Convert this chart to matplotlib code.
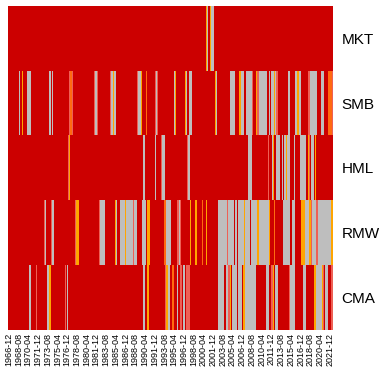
import numpy as np
import pandas as pd
import matplotlib
matplotlib.use("Agg")
import matplotlib.pyplot as plt
from matplotlib.colors import ListedColormap

plt.rcParams['font.family'] = ['Liberation Sans', 'DejaVu Sans']

# monthly columns, first month and count
first_month = "1966-12"
n_months = 667
factors = ["MKT", "SMB", "HML", "RMW", "CMA"]

# significance level of each cell: R = strongest (default), D, S, O, G = not significant
level_names = ["R", "D", "S", "O", "G"]
level_colors = ["#CC0000", "#FF6A10", "#EE6055", "#FFA500", "#BEBEBE"]

# non-red stretches per factor: (first month index, number of months, level)
mkt_runs = [(406, 2, "O"), (408, 2, "G"), (410, 1, "S"), (414, 1, "S"),
            (415, 2, "O"), (417, 6, "G")]

smb_runs = [(22, 2, "G"), (28, 2, "O"), (38, 1, "S"), (39, 9, "G"), (85, 3, "G"),
            (91, 1, "G"), (92, 1, "S"), (126, 2, "S"), (128, 4, "D"), (132, 2, "S"),
            (177, 1, "S"), (178, 5, "G"), (183, 1, "S"), (210, 1, "S"), (211, 4, "G"),
            (215, 2, "O"), (217, 5, "G"), (265, 2, "S"), (267, 6, "G"), (273, 2, "O"),
            (284, 2, "D"), (301, 2, "S"), (303, 3, "G"), (306, 2, "S"), (340, 2, "G"),
            (342, 2, "O"), (364, 2, "O"), (366, 2, "G"), (371, 2, "G"), (373, 1, "O"),
            (374, 4, "G"), (425, 2, "O"), (427, 2, "G"), (456, 9, "G"), (475, 3, "O"),
            (478, 7, "G"), (488, 6, "G"), (494, 1, "S"), (495, 5, "G"), (500, 2, "S"),
            (509, 3, "O"), (512, 3, "S"), (515, 17, "G"), (535, 2, "G"), (540, 5, "G"),
            (545, 2, "O"), (547, 4, "G"), (551, 3, "S"), (574, 5, "G"), (589, 4, "G"),
            (593, 4, "O"), (597, 5, "G"), (616, 3, "S"), (619, 16, "G"), (642, 7, "G"),
            (657, 8, "D"), (665, 2, "S")]

hml_runs = [(123, 2, "S"), (125, 2, "O"), (127, 1, "S"), (278, 3, "G"), (302, 2, "G"),
            (315, 2, "S"), (317, 6, "G"), (368, 2, "S"), (370, 3, "G"), (493, 7, "G"),
            (533, 2, "S"), (541, 2, "G"), (543, 3, "O"), (551, 7, "G"), (562, 2, "G"),
            (567, 4, "G"), (571, 2, "O"), (573, 6, "G"), (586, 3, "G"), (599, 12, "G"),
            (615, 2, "O"), (617, 2, "S"), (622, 5, "G"), (630, 3, "O")]

rmw_runs = [(73, 3, "S"), (76, 3, "G"), (89, 2, "S"), (91, 3, "G"), (137, 3, "S"),
            (140, 5, "O"), (187, 2, "S"), (189, 5, "G"), (194, 1, "O"), (195, 4, "G"),
            (219, 2, "O"), (221, 3, "G"), (229, 12, "G"), (241, 1, "O"), (242, 15, "G"),
            (257, 2, "S"), (259, 6, "G"), (274, 2, "S"), (276, 8, "G"), (286, 5, "O"),
            (320, 4, "D"), (324, 10, "G"), (346, 4, "S"), (350, 6, "G"), (353, 3, "S"),
            (373, 3, "O"), (384, 3, "O"), (398, 3, "D"), (406, 3, "O"), (430, 11, "G"),
            (441, 1, "O"), (442, 7, "G"), (449, 3, "S"), (452, 11, "G"), (466, 4, "G"),
            (472, 12, "G"), (484, 2, "O"), (487, 9, "G"), (498, 13, "G"), (511, 4, "O"),
            (515, 20, "G"), (535, 3, "O"), (546, 2, "D"), (564, 15, "G"), (583, 6, "G"),
            (602, 8, "O"), (610, 7, "G"), (617, 4, "O"), (621, 3, "S"), (624, 9, "G"),
            (633, 3, "S"), (636, 27, "G"), (663, 4, "O")]

cma_runs = [(44, 4, "G"), (57, 2, "S"), (80, 5, "G"), (85, 3, "O"), (117, 3, "S"),
            (122, 2, "G"), (277, 5, "G"), (286, 4, "O"), (323, 2, "S"), (325, 3, "O"),
            (328, 4, "G"), (337, 4, "D"), (346, 3, "G"), (352, 5, "S"), (359, 4, "G"),
            (366, 7, "S"), (432, 12, "G"), (448, 4, "G"), (452, 3, "S"), (455, 3, "O"),
            (459, 10, "G"), (473, 7, "G"), (483, 3, "O"), (486, 22, "G"), (530, 6, "G"),
            (540, 3, "S"), (543, 3, "O"), (547, 7, "G"), (576, 2, "S"), (578, 10, "G"),
            (606, 6, "G"), (629, 3, "O"), (632, 12, "G"), (644, 3, "O"), (647, 2, "S"),
            (650, 7, "G"), (663, 4, "S")]

all_runs = [mkt_runs, smb_runs, hml_runs, rmw_runs, cma_runs]

months = pd.period_range(first_month, periods=n_months, freq="M").strftime("%Y-%m")
tick_step = 20

# build the level matrix
grid = np.zeros((len(factors), n_months), dtype=int)
for row, runs in enumerate(all_runs):
    for start, length, lev in runs:
        grid[row, start:start + length] = level_names.index(lev)

fig = plt.figure(figsize=(3.79, 3.68), dpi=100)
ax = fig.add_axes([0.0224, 0.1033, 0.8562, 0.8804])
ax.imshow(grid, cmap=ListedColormap(level_colors), vmin=-0.5, vmax=len(level_colors) - 0.5,
          aspect="auto", interpolation="nearest")

ticks = np.arange(0, n_months, tick_step)
ax.set_xticks(ticks)
ax.set_xticklabels(months[ticks], rotation=90, fontsize=6.5)
ax.set_yticks(range(len(factors)))
ax.set_yticklabels(factors, fontsize=11)
ax.yaxis.tick_right()
ax.tick_params(axis="x", length=0, pad=2)
ax.tick_params(axis="y", length=0, pad=6)
for s in ax.spines.values():
    s.set_visible(False)

fig.savefig("out.png", dpi=100)
